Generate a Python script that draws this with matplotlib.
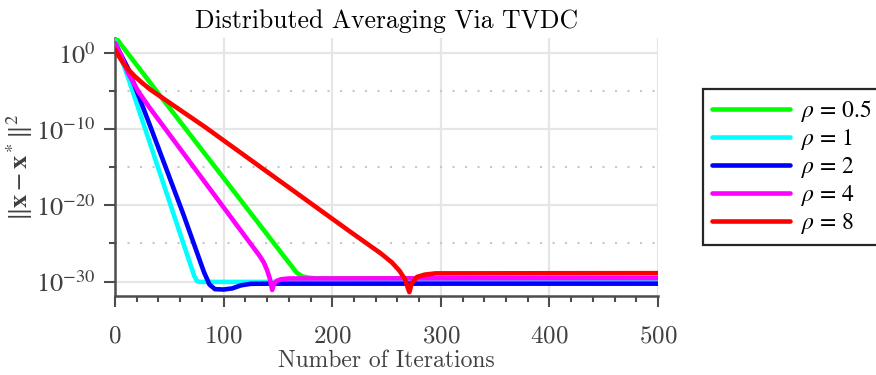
import numpy as np
import matplotlib
matplotlib.use("Agg")
import matplotlib.pyplot as plt
from matplotlib.ticker import MultipleLocator, FixedLocator

plt.rcParams['font.family'] = 'cmr10'
plt.rcParams['axes.formatter.use_mathtext'] = True
plt.rcParams['mathtext.fontset'] = 'stix'

# iteration / log10(error) pairs
it_05 = [0, 2, 44.5, 167, 172, 178, 186, 500]
lg_05 = [1.9, 1.8, -6.14, -28.8, -29.3, -29.5, -29.6, -29.6]

it_1 = [0, 12, 73, 75.5, 78, 500]
lg_1 = [1.65, -3.2, -29.3, -29.95, -30.05, -30.05]

it_2 = [0, 12, 32.2, 63, 75, 82, 87, 92, 100, 108, 116, 125, 140, 500]
lg_2 = [1.3, -2.0, -9.5, -21.2, -26.0, -28.8, -30.4, -31.0, -31.05, -30.9, -30.5, -30.3, -30.28, -30.28]

it_4 = [0, 5, 12, 21.5, 32.2, 133.5, 137, 140, 142.5, 144.7, 146.5, 149, 153, 160, 500]
lg_4 = [1.35, -0.1, -2.6, -5.04, -7.23, -26.7, -27.5, -28.5, -29.6, -31.1, -30.3, -29.9, -29.7, -29.6, -29.55]

it_8 = [0, 4, 8, 12, 18, 25, 32.2, 82.9, 216.4, 244.7, 255, 262, 267, 270, 271, 273, 278, 285, 295, 500]
lg_8 = [0.5, -0.5, -1.4, -2.1, -3.0, -3.9, -4.75, -9.7, -23.44, -26.3, -27.5, -28.6, -29.7, -31.0, -31.4, -30.3, -29.4, -29.1, -28.93, -28.9]

labels = [r'$\rho$ = 0.5', r'$\rho$ = 1', r'$\rho$ = 2', r'$\rho$ = 4', r'$\rho$ = 8']
colors = ['#00ff00', '#00ffff', '#0000ff', '#ff00ff', '#ff0000']

ytick_vals = [1e-30, 1e-20, 1e-10, 1e0]
ytick_labels = [r'$\mathrm{10^{-30}}$', r'$\mathrm{10^{-20}}$', r'$\mathrm{10^{-10}}$', r'$\mathrm{10^{0}}$']
yminor_vals = [1e-25, 1e-15, 1e-5]

fig = plt.figure(figsize=(8.76, 3.75), dpi=100)
ax = fig.add_axes([0.1313, 0.2107, 0.6199, 0.688])

series = [(it_05, lg_05), (it_1, lg_1), (it_2, lg_2), (it_4, lg_4), (it_8, lg_8)]
for (xs, ls), lab, c in zip(series, labels, colors):
    ax.semilogy(xs, 10.0 ** np.array(ls), color=c, lw=3.3, label=lab,
                solid_joinstyle='round', solid_capstyle='round', zorder=3)

ax.set_xlim(0, 500)
ax.set_ylim(10 ** -31.9, 10 ** 2)

ax.xaxis.set_major_locator(MultipleLocator(100))
ax.xaxis.set_minor_locator(MultipleLocator(20))
ax.set_yticks(ytick_vals, ytick_labels)
ax.yaxis.set_minor_locator(FixedLocator(yminor_vals))
ax.yaxis.set_minor_formatter(plt.NullFormatter())

ax.grid(True, which='major', color='#e6e6e6', lw=1.6, zorder=0)
ax.grid(True, which='minor', axis='y', color='#c8c8c8', lw=1.5, ls=(0, (1, 5)), zorder=0)
ax.set_axisbelow(True)

for s in ['top', 'right']:
    ax.spines[s].set_visible(False)
for s in ['left', 'bottom']:
    ax.spines[s].set_color('#4d4d4d')
    ax.spines[s].set_linewidth(1.8)

ax.tick_params(which='major', direction='out', length=8, width=1.5, color='#4d4d4d',
               labelcolor='#404040')
ax.tick_params(which='minor', direction='out', length=4.5, width=1.5, color='#4d4d4d')
ax.tick_params(axis='x', pad=13, labelsize=18)
ax.tick_params(axis='y', pad=6, labelsize=19)

ax.set_title('Distributed Averaging Via TVDC', fontsize=18.5, pad=7)
ax.set_xlabel('Number of Iterations', fontsize=17, color='#404040', labelpad=2)
ax.set_ylabel(r'$\Vert\mathbf{x} - \mathbf{x}^*\Vert^2$', fontsize=19, color='#404040', labelpad=1)

leg = ax.legend(loc='upper left', bbox_to_anchor=(0.8025, 0.7627), bbox_transform=fig.transFigure,
                borderaxespad=0, fancybox=False, framealpha=1, edgecolor='#262626',
                prop={'family': 'STIXGeneral', 'size': 17},
                handlelength=3.3, handletextpad=0.45, labelspacing=0.12,
                borderpad=0.4)
leg.get_frame().set_linewidth(1.6)

fig.savefig('out.png', dpi=100)
